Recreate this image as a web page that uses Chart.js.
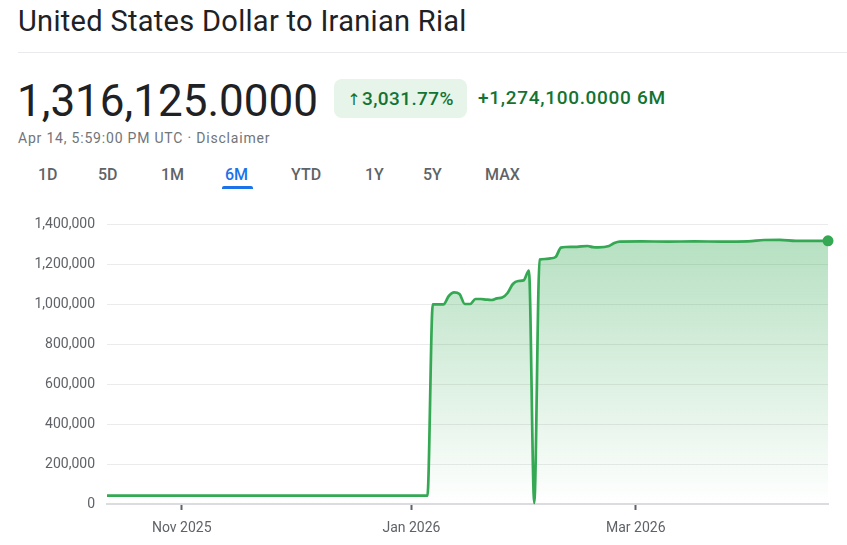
<!DOCTYPE html>
<html>
<head>
<meta charset="utf-8">
<script src="https://cdn.jsdelivr.net/npm/chart.js@4/dist/chart.umd.min.js"></script>
<style>
  html,body{margin:0;padding:0;background:#fff;width:847px;height:545px;overflow:hidden;font-family:Roboto,"Noto Sans",sans-serif;}
  .title{position:absolute;left:18px;top:4px;font-size:29px;color:#202124;font-weight:400;letter-spacing:0.3px;}
  .divider{position:absolute;left:18px;right:0;top:52px;height:1px;background:#e8eaed;}
  .price{position:absolute;left:17px;top:75px;font-size:44px;color:#202124;font-weight:400;}
  .badge{position:absolute;left:334px;top:79px;width:133px;height:39px;background:#e6f4ea;border-radius:8px;color:#137333;font-size:19px;line-height:39px;text-align:center;font-weight:500;letter-spacing:0.4px;}
  .badge .arr{font-family:"DejaVu Sans",sans-serif;font-size:16px;font-weight:400;margin-right:1px;}
  .change{position:absolute;left:478px;top:86px;font-size:19px;color:#137333;font-weight:500;letter-spacing:0.7px;}
  .stamp{position:absolute;left:18px;top:130px;font-size:14px;color:#70757a;letter-spacing:0.8px;}
  .tab{position:absolute;top:165px;font-size:16px;color:#5f6368;font-weight:500;}
  .tab.active{color:#1a73e8;}
  .underline{position:absolute;left:222px;top:186px;width:31px;height:3px;background:#1a73e8;border-radius:2px 2px 0 0;}
  #wrap{position:absolute;left:0;top:200px;width:847px;height:345px;}
</style>
</head>
<body>
<div class="title">United States Dollar to Iranian Rial</div>
<div class="divider"></div>
<div class="price">1,316,125.0000</div>
<div class="badge"><span class="arr">↑</span>3,031.77%</div>
<div class="change">+1,274,100.0000 6M</div>
<div class="stamp">Apr 14, 5:59:00 PM UTC · Disclaimer</div>
<div class="tab" style="left:38px">1D</div>
<div class="tab" style="left:98px">5D</div>
<div class="tab" style="left:161px">1M</div>
<div class="tab active" style="left:225px">6M</div>
<div class="tab" style="left:291px">YTD</div>
<div class="tab" style="left:365px">1Y</div>
<div class="tab" style="left:423px">5Y</div>
<div class="tab" style="left:485px">MAX</div>
<div class="underline"></div>
<div id="wrap"><canvas id="c" width="847" height="345"></canvas></div>
<script>
// Trading-day index (x) and USD→IRR rate (y)
const dayIndex = [0, 20, 40, 60, 61, 63, 64, 65, 66, 67, 68, 69, 70, 71, 72, 73, 74, 75, 76, 77, 78, 79, 80, 81, 82, 83, 84, 85, 86, 88, 90, 91, 92, 94, 95, 96, 100, 105, 110, 115, 120, 123, 126, 129, 132, 135];
const rate = [42025, 42025, 42025, 42025, 998000, 998000, 1040000, 1058000, 1050000, 1000000, 1000000, 1025000, 1025000, 1022000, 1020000, 1028000, 1032000, 1055000, 1100000, 1115000, 1118000, 1167000, 5000, 1222000, 1225000, 1228000, 1235000, 1282000, 1285000, 1286000, 1290000, 1284000, 1283000, 1290000, 1305000, 1312000, 1313000, 1312000, 1313000, 1312000, 1313000, 1320000, 1321000, 1316000, 1316000, 1316125];
const xTickPos = [14, 57, 99];
const xTickLabels = ["Nov 2025", "Jan 2026", "Mar 2026"];
const yTicks = [0, 200000, 400000, 600000, 800000, 1000000, 1200000, 1400000];

const points = dayIndex.map((d, i) => ({x: d, y: rate[i]}));
const last = points.length - 1;

new Chart(document.getElementById('c'), {
  type: 'line',
  data: {
    datasets: [{
      data: points,
      borderColor: '#34a853',
      borderWidth: 2.7,
      cubicInterpolationMode: 'monotone',
      fill: 'origin',
      backgroundColor: (ctx) => {
        const ca = ctx.chart.chartArea;
        if (!ca) return 'rgba(52,168,83,0.2)';
        const g = ctx.chart.ctx.createLinearGradient(0, ca.top, 0, ca.bottom);
        g.addColorStop(0, 'rgba(52,168,83,0.38)');
        g.addColorStop(1, 'rgba(52,168,83,0.0)');
        return g;
      },
      pointRadius: (ctx) => ctx.dataIndex === last ? 5.5 : 0,
      pointBackgroundColor: '#34a853',
      pointBorderWidth: 0,
      clip: false
    }]
  },
  options: {
    responsive: false,
    animation: false,
    layout: {padding: {top: 24, right: 19, left: 0, bottom: 0}},
    plugins: {legend: {display: false}, tooltip: {enabled: false}},
    scales: {
      x: {
        type: 'linear',
        min: 0,
        max: 135,
        afterBuildTicks: (s) => { s.ticks = xTickPos.map(v => ({value: v})); },
        afterFit: (s) => { s.height = 41; },
        ticks: {
          callback: (v) => xTickLabels[xTickPos.indexOf(v)],
          color: '#5f6368',
          font: {family: 'Roboto', size: 14},
          maxRotation: 0,
          padding: 10
        },
        grid: {drawOnChartArea: false, drawTicks: true, tickLength: 6, color: '#5f6368', tickWidth: 2},
        border: {display: true, color: '#dadce0', width: 2}
      },
      y: {
        min: 0,
        max: 1400000,
        afterBuildTicks: (s) => { s.ticks = yTicks.map(v => ({value: v})); },
        afterFit: (s) => { s.width = 107; },
        ticks: {
          callback: (v) => v.toLocaleString('en-US'),
          color: '#5f6368',
          font: {family: 'Roboto', size: 14},
          padding: 12
        },
        grid: {color: '#ebebeb', drawTicks: false, lineWidth: 1},
        border: {display: false}
      }
    }
  }
});
</script>
</body>
</html>
